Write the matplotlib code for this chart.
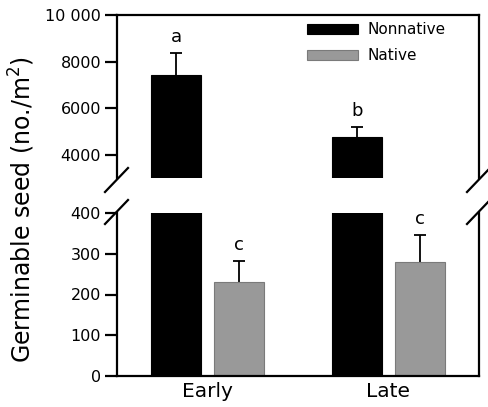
import matplotlib
matplotlib.use("Agg")
import matplotlib.pyplot as plt
import numpy as np
from matplotlib.patches import Patch
from matplotlib.lines import Line2D

plt.rcParams['font.family'] = ['DejaVu Sans']

categories = ["Early", "Late"]
series_names = ["Nonnative", "Native"]
nonnative = [7430, 4780]
nonnative_err = [920, 430]
native = [230, 280]
native_err = [53, 66]
letters_nonnative = ["a", "b"]
letters_native = ["c", "c"]
top_ticks = [4000, 6000, 8000, 10000]
top_ticklabels = ["4000", "6000", "8000", "10 000"]
bottom_ticks = [0, 100, 200, 300, 400]

W, H = 488, 407
fig = plt.figure(figsize=(W / 100, H / 100), dpi=100)

def fx(px):
    return px / W

def fy(py):
    return 1 - py / H

left, right = fx(117), fx(479)
ax_top = fig.add_axes([left, fy(178), right - left, fy(15) - fy(178)])
ax_bot = fig.add_axes([left, fy(376), right - left, fy(213) - fy(376)])

x = np.arange(len(categories))
width = 0.276
off = 0.174
black = "#000000"
gray = "#999999"
lw = 1.6

def upper_err(ax, xs, ys, es):
    cont = ax.errorbar(xs, ys, yerr=[np.zeros(len(es)), es], fmt="none",
                       ecolor=black, elinewidth=1.3, capsize=4.5, capthick=1.3, zorder=1)
    caps = cont[1]
    if len(caps) >= 2:
        caps[0].set_visible(False)

for ax in (ax_top, ax_bot):
    ax.bar(x - off, nonnative, width, color=black, edgecolor=black, linewidth=0.8, zorder=2)
    ax.bar(x + off, native, width, color=gray, edgecolor="#7a7a7a", linewidth=0.8, zorder=2)
    upper_err(ax, x - off, nonnative, nonnative_err)
    upper_err(ax, x + off, native, native_err)
    ax.set_xlim(-0.5, 1.5)
    for s in ax.spines.values():
        s.set_linewidth(lw)
    ax.tick_params(axis="y", direction="out", length=8.5, width=lw, labelsize=11.5, pad=3)

ax_top.set_ylim(3000, 10000)
ax_top.set_yticks(top_ticks)
ax_top.set_yticklabels(top_ticklabels)
ax_top.spines["bottom"].set_visible(False)
ax_top.tick_params(axis="x", bottom=False, labelbottom=False)

ax_bot.set_ylim(0, 400)
ax_bot.set_yticks(bottom_ticks)
ax_bot.spines["top"].set_visible(False)
ax_bot.set_xticks(x)
ax_bot.set_xticklabels(categories, fontsize=14.5)
ax_bot.tick_params(axis="x", length=0, pad=4)

for i in range(len(categories)):
    ax_top.annotate(letters_nonnative[i], (x[i] - off, nonnative[i] + nonnative_err[i]),
                    xytext=(0, 11.5), textcoords="offset points", ha="center", va="center",
                    fontsize=13)
    ax_bot.annotate(letters_native[i], (x[i] + off, native[i] + native_err[i]),
                    xytext=(0, 11.5), textcoords="offset points", ha="center", va="center",
                    fontsize=13)

# break marks
for cx in (117, 479):
    for cy in (180, 212):
        fig.add_artist(Line2D([fx(cx - 12), fx(cx + 11)], [fy(cy + 12), fy(cy - 12)],
                              color=black, linewidth=lw))

handles = [Patch(facecolor=black, edgecolor=black, linewidth=0.8),
           Patch(facecolor=gray, edgecolor="#7a7a7a", linewidth=0.8)]
fig.legend(handles, series_names, loc="upper left",
           bbox_to_anchor=(fx(307), fy(22)), bbox_transform=fig.transFigure,
           frameon=False, fontsize=11, handlelength=3.33, handleheight=0.65,
           handletextpad=0.6, labelspacing=0.75, borderpad=0, borderaxespad=0)

fig.text(fx(22), fy(210), "Germinable seed (no./m$^{2}$)", rotation=90,
         ha="center", va="center", fontsize=17)

fig.savefig("out.png", dpi=100)
